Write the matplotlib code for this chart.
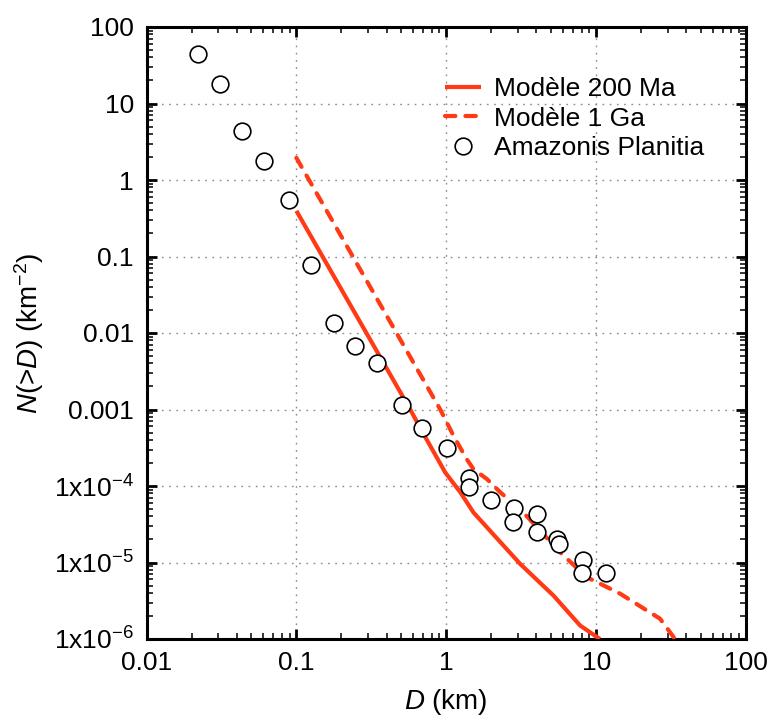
import matplotlib
matplotlib.use("Agg")
import matplotlib.pyplot as plt
from matplotlib.ticker import LogLocator, FixedLocator, NullFormatter

# ---- data ----
D_obs = [0.0222, 0.0307, 0.0436, 0.0612, 0.0898, 0.126, 0.177, 0.247, 0.347,
         0.509, 0.69, 1.01, 1.41, 1.41, 1.99, 2.85, 2.81, 4.06, 4.06, 5.52,
         5.69, 8.23, 8.07, 11.7]
N_obs = [45, 17.9, 4.37, 1.77, 0.55, 0.078, 0.0135, 0.0068, 0.0040,
         0.00113, 0.00057, 3.18e-4, 1.29e-4, 9.7e-5, 6.5e-5, 5.1e-5, 3.4e-5,
         4.35e-5, 2.53e-5, 2.01e-5, 1.75e-5, 1.07e-5, 7.2e-6, 7.2e-6]

D_200 = [0.1, 0.575, 0.707, 0.985, 1.24, 1.52, 3.11, 5.19, 7.82, 10.6]
N_200 = [0.395, 1.0e-3, 4.75e-4, 1.5e-4, 8.3e-5, 4.5e-5, 9.6e-6, 3.7e-6, 1.5e-6, 1.0e-6]

D_1G = [0.1, 0.912, 1.12, 1.37, 1.52, 1.87, 2.29, 3.27, 5.75, 8.67, 10.6, 14.5, 26.7, 33.0]
N_1G = [1.95, 1.0e-3, 4.5e-4, 2.24e-4, 1.66e-4, 1.23e-4, 8.3e-5, 4.5e-5, 1.36e-5,
        6.4e-6, 5.3e-6, 3.9e-6, 1.84e-6, 1.05e-6]

x_ticks = [0.01, 0.1, 1, 10, 100]
x_labels = ["0.01", "0.1", "1", "10", "100"]
y_ticks = [1e-6, 1e-5, 1e-4, 1e-3, 1e-2, 1e-1, 1, 10, 100]
y_labels = ["1x10$^{-6}$", "1x10$^{-5}$", "1x10$^{-4}$", "0.001", "0.01", "0.1", "1", "10", "100"]

labels = ["Modèle 200 Ma", "Modèle 1 Ga", "Amazonis Planitia"]

# ---- style ----
plt.rcParams.update({
    "font.family": ["Liberation Sans", "DejaVu Sans"],
    "mathtext.fontset": "custom",
    "mathtext.rm": "Liberation Sans",
    "mathtext.it": "Liberation Sans:italic",
    "mathtext.default": "regular",
})
RED = "#ff3a14"
FS = 19

fig = plt.figure(figsize=(7.73, 7.27), dpi=100)
W, H = 773, 727
ax = fig.add_axes([146.5 / W, 1 - 639 / H, (746 - 146.5) / W, (639 - 27) / H])
ax.set_xscale("log")
ax.set_yscale("log")
ax.set_xlim(0.01, 100)
ax.set_ylim(1e-6, 100)

ax.plot(D_200, N_200, color=RED, lw=3.0, solid_capstyle="butt", label=labels[0], zorder=3)
ax.plot(D_1G, N_1G, color=RED, lw=3.0, linestyle=(0, (2.5, 2.4)),
        dash_capstyle="round", label=labels[1], zorder=3)
ax.plot(D_obs, N_obs, linestyle="none", marker="o", ms=12, mfc="white",
        mec="black", mew=1.2, label=labels[2], zorder=4)

ax.xaxis.set_major_locator(FixedLocator(x_ticks))
ax.set_xticklabels(x_labels)
ax.yaxis.set_major_locator(FixedLocator(y_ticks))
ax.set_yticklabels(y_labels)
ax.xaxis.set_minor_locator(LogLocator(base=10, subs=range(2, 10), numticks=20))
ax.yaxis.set_minor_locator(LogLocator(base=10, subs=range(2, 10), numticks=20))
ax.xaxis.set_minor_formatter(NullFormatter())
ax.yaxis.set_minor_formatter(NullFormatter())

ax.tick_params(which="both", direction="in", top=True, right=True,
               labelsize=FS, colors="black")
ax.tick_params(which="major", length=7.5, width=2.0, pad=9)
ax.tick_params(which="minor", length=4.0, width=1.1)
for s in ax.spines.values():
    s.set_linewidth(2.2)

ax.grid(True, which="major", color="#8a8a8a", linestyle=(0, (1.2, 4)), linewidth=1.0)

ax.set_xlabel("$\\mathit{D}$ (km)", fontsize=FS + 1, labelpad=8)
ax.set_ylabel("$\\mathit{N}$(>$\\mathit{D}$) (km$^{-2}$)", fontsize=FS + 1, labelpad=6)

leg = ax.legend(loc="upper left", bbox_to_anchor=(440 / W, 1 - 72 / H),
                bbox_transform=fig.transFigure, frameon=False, fontsize=FS,
                handlelength=1.35, handletextpad=0.5, labelspacing=0.2,
                borderpad=0.2, borderaxespad=0)

fig.savefig("out.png", dpi=100)
